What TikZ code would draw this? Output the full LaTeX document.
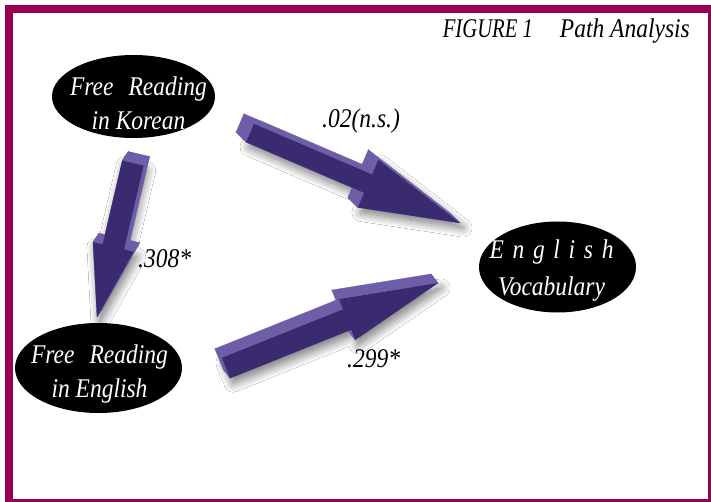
\documentclass[tikz,border=0pt]{standalone}
\usepackage{graphicx}
\usepackage{fontspec}
\setmainfont{Liberation Serif}[FakeStretch=0.87]
\usetikzlibrary{shapes.geometric,calc,shadows.blur}
\definecolor{framecol}{HTML}{990050}
\definecolor{arrfront}{HTML}{3A2A70}
\definecolor{arrside}{HTML}{6E5EA8}
\tikzset{
  ovalnode/.style={ellipse, fill=black, text=white, inner sep=0pt, outer sep=0pt,
    font=\fontsize{27}{34}\selectfont\itshape},
  lbl/.style={font=\fontsize{27}{32}\selectfont\itshape, inner sep=0pt},
  arrshadow/.style={blur shadow={shadow xshift=3pt, shadow yshift=-5pt,
    shadow blur radius=9pt, shadow blur steps=14, shadow opacity=55}}
}
% #1 x offset, #2 raise, #3 lines
\newcommand{\ovaltext}[3]{\raisebox{#2}[0pt][0pt]{\rlap{\kern#1\makebox[0pt]{\begin{tabular}{@{}c@{}}#3\end{tabular}}}}}
% #1 tail, #2 tip, #3 shaft half width, #4 head half width, #5 head length, #6 dx, #7 dy
\newcommand{\blockarrow}[7]{%
  \coordinate (BAh) at ($(#2)!#5pt!(#1)$);
  \coordinate (BA1) at ($(#1)!#3pt!90:(#2)$);
  \coordinate (BA2) at ($(BAh)!#3pt!-90:(#1)$);
  \coordinate (BA3) at ($(BAh)!#4pt!-90:(#1)$);
  \coordinate (BA4) at (#2);
  \coordinate (BA5) at ($(BAh)!#4pt!90:(#1)$);
  \coordinate (BA6) at ($(BAh)!#3pt!90:(#1)$);
  \coordinate (BA7) at ($(#1)!#3pt!-90:(#2)$);
  \path[arrshadow] (BA1)--(BA2)--(BA3)--(BA4)--(BA5)--(BA6)--(BA7)--cycle;
  \foreach \a/\b in {1/2,2/3,3/4,4/5,5/6,6/7,7/1}
    \filldraw[arrside, line width=0.3pt] (BA\a)--(BA\b)--([shift={(#6,#7)}]BA\b)--([shift={(#6,#7)}]BA\a)--cycle;
  \fill[arrfront] (BA1)--(BA2)--(BA3)--(BA4)--(BA5)--(BA6)--(BA7)--cycle;
}
\begin{document}
\begin{tikzpicture}[x=1pt,y=-1pt]
\useasboundingbox (0,0) rectangle (711,502);
\fill[framecol] (5,5) rectangle (711,502);
\fill[white] (13,13) rectangle (708,499);

\node[lbl, anchor=base east] (title) at (690,38) {\scalebox{0.88}[1]{FIGURE 1}\hspace{27pt}Path Analysis};

\node[ovalnode, minimum width=163pt, minimum height=83pt] (kor) at (133.5,96.5)
  {\ovaltext{5pt}{-15pt}{Free\hspace{15pt}Reading\\in Korean}};
\node[ovalnode, minimum width=167pt, minimum height=90pt] (eng) at (98.5,368)
  {\ovaltext{1pt}{-12pt}{Free\hspace{15pt}Reading\\in English}};
\node[ovalnode, minimum width=157pt, minimum height=91pt] (voc) at (557.5,267)
  {\ovaltext{-6pt}{-9.5pt}{\makebox[124pt][s]{E\hfill n\hfill g\hfill l\hfill i\hfill s\hfill h}\\[3pt]Vocabulary}};

\coordinate (a1s) at (250,133);
\coordinate (a1e) at (460,223);
\coordinate (a2s) at (133,163);
\coordinate (a2e) at (97,317);
\coordinate (a3s) at (226,368);
\coordinate (a3e) at (438,283);

\blockarrow{a1s}{a1e}{10}{26}{100}{-10}{-10}
\blockarrow{a2s}{a2e}{11}{21}{72}{6}{-9}
\blockarrow{a3s}{a3e}{11}{22}{98}{-7}{-9}

\node[lbl, anchor=base west] (l1) at (322,128) {.02(n.s.)};
\node[lbl, anchor=base west] (l2) at (138,268) {.308*};
\node[lbl, anchor=base west] (l3) at (347,367) {.299*};
\end{tikzpicture}
\end{document}
